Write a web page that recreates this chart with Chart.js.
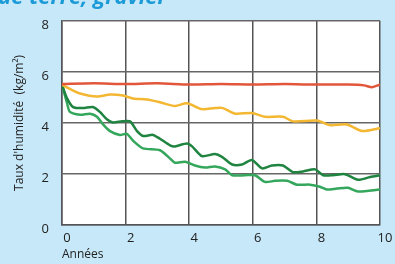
<!DOCTYPE html>
<html>
<head>
<meta charset="utf-8">
<script src="https://cdn.jsdelivr.net/npm/chart.js@4"></script>
<style>
  html, body { margin: 0; padding: 0; background: #c7e8f8; overflow: hidden; }
  #plotBg { position: absolute; background: #ffffff; z-index: 0; }
  #humidityChart { position: absolute; left: 0; top: 0; z-index: 1; }
  #heading {
    position: absolute; left: -2px; top: -20px; z-index: 2;
    font: italic bold 22px "Open Sans", sans-serif; color: #1b9ad8;
    white-space: nowrap;
  }
</style>
</head>
<body>
<div id="plotBg"></div>
<canvas id="humidityChart" width="395" height="264"></canvas>
<div id="heading">ue terre, gravier</div>
<script>
// values (years, kg/m2)
const redYears = [0, 1, 2, 3, 4, 5, 6, 7, 8, 9, 9.5, 9.75, 10];
const redValues = [5.52, 5.55, 5.52, 5.55, 5.5, 5.52, 5.5, 5.52, 5.5, 5.5, 5.47, 5.4, 5.5];

const yellowYears = [0, 0.25, 0.57, 1.1, 1.51, 1.92, 2.23, 2.67, 3.08, 3.55, 3.93, 4.4, 4.81, 5.06, 5.44, 5.97, 6.38, 6.95, 7.26, 8.02, 8.43, 8.96, 9.43, 10];
const yellowValues = [5.5, 5.33, 5.15, 5.03, 5.11, 5.07, 4.96, 4.92, 4.81, 4.66, 4.77, 4.54, 4.58, 4.58, 4.36, 4.39, 4.24, 4.24, 4.06, 4.09, 3.91, 3.94, 3.68, 3.79];

const darkGreenYears = [0, 0.16, 0.35, 0.66, 0.97, 1.19, 1.42, 1.6, 1.89, 2.14, 2.36, 2.55, 2.86, 3.08, 3.4, 3.55, 3.93, 4.09, 4.4, 4.81, 5.03, 5.35, 5.66, 5.97, 6.29, 6.6, 6.95, 7.26, 7.58, 7.96, 8.21, 8.52, 8.9, 9.31, 9.69, 10];
const darkGreenValues = [5.5, 4.96, 4.62, 4.58, 4.62, 4.43, 4.13, 4.02, 4.06, 4.06, 3.68, 3.49, 3.53, 3.38, 3.12, 3.08, 3.19, 3.08, 2.7, 2.78, 2.67, 2.37, 2.37, 2.55, 2.22, 2.33, 2.33, 2.07, 2.1, 2.18, 1.95, 1.95, 1.99, 1.77, 1.88, 1.95];

const lightGreenYears = [0, 0.16, 0.25, 0.57, 0.88, 1.1, 1.29, 1.51, 1.82, 2.04, 2.23, 2.55, 3.08, 3.4, 3.55, 3.87, 4.18, 4.5, 4.81, 5.13, 5.35, 5.75, 6.07, 6.38, 6.7, 7.08, 7.39, 7.8, 8.11, 8.33, 8.65, 8.99, 9.31, 10];
const lightGreenValues = [5.5, 4.77, 4.43, 4.32, 4.36, 4.24, 3.94, 3.68, 3.53, 3.57, 3.31, 3.0, 2.93, 2.6, 2.44, 2.48, 2.33, 2.25, 2.29, 2.18, 1.95, 1.95, 1.95, 1.69, 1.73, 1.73, 1.58, 1.58, 1.5, 1.39, 1.43, 1.46, 1.31, 1.39];

const tickStep = 2;

function toPoints(years, values) {
  return years.map((year, index) => ({ x: year, y: values[index] }));
}

function makeSeries(years, values, color) {
  return {
    data: toPoints(years, values),
    borderColor: color,
    borderWidth: 2.5,
    pointRadius: 0,
    tension: 0.25,
    fill: false,
  };
}

const chart = new Chart(document.getElementById('humidityChart'), {
  type: 'line',
  data: {
    datasets: [
      makeSeries(redYears, redValues, '#e2563b'),
      makeSeries(yellowYears, yellowValues, '#f4b731'),
      makeSeries(darkGreenYears, darkGreenValues, '#1f8440'),
      makeSeries(lightGreenYears, lightGreenValues, '#35a75c'),
    ],
  },
  options: {
    responsive: false,
    animation: false,
    layout: { padding: { top: 0, right: 15, left: 0, bottom: 0 } },
    plugins: {
      legend: { display: false },
      tooltip: { enabled: false },
    },
    scales: {
      x: {
        type: 'linear',
        min: 0,
        max: 10,
        afterFit: (scale) => {
          scale.height = 39;
        },
        grid: { color: '#555', lineWidth: 1.5, drawTicks: false },
        border: { color: '#555', width: 1.5 },
        ticks: {
          stepSize: tickStep,
          padding: 5,
          labelOffset: 5,
          color: '#222',
          font: { family: 'Open Sans', size: 13 },
        },
        title: {
          display: true,
          text: 'Années',
          align: 'start',
          color: '#222',
          font: { family: 'Open Sans', size: 12 },
          padding: { top: 0, bottom: 2 },
        },
      },
      y: {
        min: 0,
        max: 8,
        afterFit: (scale) => {
          scale.width = 62;
        },
        grid: { color: '#666', lineWidth: 1.5, drawTicks: false },
        border: { color: '#555', width: 1.5 },
        ticks: {
          stepSize: tickStep,
          padding: 13,
          labelOffset: 4,
          color: '#222',
          font: { family: 'Open Sans', size: 13 },
        },
        title: {
          display: true,
          text: 'Taux d\'humidité  (kg/m²)',
          color: '#222',
          font: { family: 'Open Sans', size: 12 },
          padding: { top: 12, bottom: 0 },
        },
      },
    },
  },
});

// white box behind the transparent canvas, sized to the plot area
const area = chart.chartArea;
const plotBg = document.getElementById('plotBg');
plotBg.style.left = area.left + 'px';
plotBg.style.top = area.top + 'px';
plotBg.style.width = (area.right - area.left) + 'px';
plotBg.style.height = (area.bottom - area.top) + 'px';
</script>
</body>
</html>
